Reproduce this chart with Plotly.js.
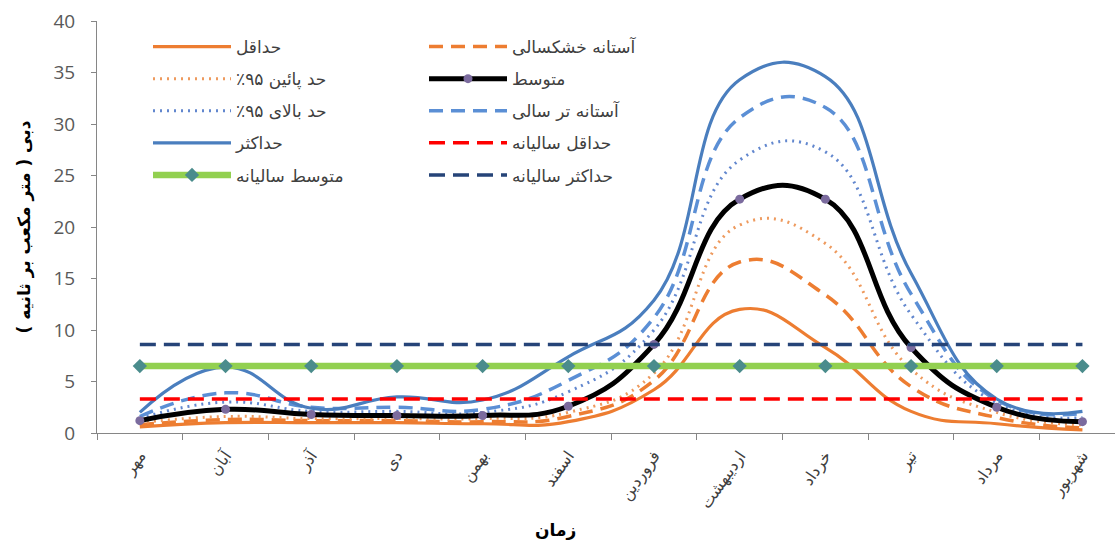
<!DOCTYPE html>
<html>
<head>
<meta charset="utf-8">
<script src="https://cdn.plot.ly/plotly-3.0.1.min.js"></script>
<style>
html,body{margin:0;padding:0;background:#fff;}
#chart{width:1115px;height:544px;}
</style>
</head>
<body>
<div id="chart"></div>
<script>
// ---- data ----
var months = ['مهر','آبان','آذر','دی','بهمن','اسفند','فروردین','اردیبهشت','خرداد','تیر','مرداد','شهریور'];
var minFlow   = [0.6, 1.0, 1.0, 1.0, 0.9, 1.1, 4.2, 12.0, 8.3, 2.1, 0.9, 0.3];
var drought   = [0.8, 1.3, 1.2, 1.2, 1.1, 1.6, 5.1, 16.6, 13.4, 4.5, 1.5, 0.5];
var lower95   = [1.0, 1.6, 1.4, 1.4, 1.4, 2.0, 5.8, 20.2, 18.4, 6.2, 2.0, 0.8];
var meanFlow  = [1.2, 2.3, 1.8, 1.7, 1.7, 2.6, 8.6, 22.7, 22.7, 8.3, 2.5, 1.1];
var upper95   = [1.4, 3.0, 2.1, 2.1, 2.0, 4.0, 10.0, 26.5, 27.3, 11.5, 2.9, 1.5];
var wet       = [1.6, 3.9, 2.5, 2.5, 2.3, 5.1, 11.2, 30.6, 31.6, 13.5, 3.2, 1.9];
var maxFlow   = [2.0, 6.4, 2.4, 3.5, 3.2, 7.4, 12.9, 34.3, 34.6, 15.5, 3.3, 2.1];
var annualMin  = [3.3, 3.3, 3.3, 3.3, 3.3, 3.3, 3.3, 3.3, 3.3, 3.3, 3.3, 3.3];
var annualMean = [6.5, 6.5, 6.5, 6.5, 6.5, 6.5, 6.5, 6.5, 6.5, 6.5, 6.5, 6.5];
var annualMax  = [8.6, 8.6, 8.6, 8.6, 8.6, 8.6, 8.6, 8.6, 8.6, 8.6, 8.6, 8.6];

var names = {
  min: 'حداقل',
  drought: 'آستانه خشکسالی',
  lower: '\u202Bحد پائین ۹۵٪\u202C',
  mean: 'متوسط',
  upper: '\u202Bحد بالای ۹۵٪\u202C',
  wet: 'آستانه تر سالی',
  max: 'حداکثر',
  aMin: 'حداقل سالیانه',
  aMean: 'متوسط سالیانه',
  aMax: 'حداکثر سالیانه'
};
var yTitle = '\u202Bدبی ( متر مکعب بر ثانیه )\u202C';
var xTitle = 'زمان';

var persianFont = 'DejaVu Sans, Noto Sans, sans-serif';

function curve(y, name, color, width, dash, legend, rank) {
  return {
    x: months, y: y, name: name, type: 'scatter', mode: 'lines',
    line: {color: color, width: width, dash: dash, shape: 'spline', smoothing: 1.3},
    legend: legend, legendgroup: name, legendrank: rank
  };
}

var traces = [
  curve(minFlow, names.min, '#ED7D31', 3.2, 'solid', 'legend', 1),
  curve(drought, names.drought, '#ED7D31', 3.5, '14px,8px', 'legend2', 1),
  curve(lower95, names.lower, '#EE9A5E', 3, '2px,5px', 'legend', 2),
  curve(upper95, names.upper, '#6287CE', 3, '2px,5px', 'legend', 3),
  curve(wet, names.wet, '#5B8FD5', 3.5, '14px,8px', 'legend2', 3),
  curve(maxFlow, names.max, '#4A7EBE', 3.2, 'solid', 'legend', 4),
  {
    x: months, y: meanFlow, name: names.mean, type: 'scatter', mode: 'lines+markers',
    line: {color: '#000000', width: 5, shape: 'spline', smoothing: 1.3},
    marker: {color: '#7B6B9E', size: 9, symbol: 'circle'},
    legend: 'legend2', legendgroup: names.mean, legendrank: 2
  },
  {
    x: months, y: annualMin, name: names.aMin, type: 'scatter', mode: 'lines',
    line: {color: '#FF0000', width: 3.5, dash: '16px,8px'},
    legend: 'legend2', legendgroup: names.aMin, legendrank: 4
  },
  {
    x: months, y: annualMean, name: names.aMean, type: 'scatter', mode: 'lines+markers',
    line: {color: '#92D050', width: 6.5},
    marker: {color: '#4A8C8C', size: 11, symbol: 'diamond'},
    legend: 'legend', legendgroup: names.aMean, legendrank: 5
  },
  {
    x: months, y: annualMax, name: names.aMax, type: 'scatter', mode: 'lines',
    line: {color: '#264478', width: 3.5, dash: '16px,8px'},
    legend: 'legend2', legendgroup: names.aMax, legendrank: 5
  }
];

var legendCommon = {
  orientation: 'v',
  traceorder: 'grouped',
  tracegroupgap: 7,
  itemwidth: 78,
  xref: 'paper', yref: 'paper',
  yanchor: 'top', xanchor: 'left',
  bgcolor: 'rgba(255,255,255,0)',
  font: {family: persianFont, size: 17, color: '#404040'}
};

var layout = {
  width: 1115, height: 544,
  margin: {l: 97, r: 0, t: 21, b: 111},
  paper_bgcolor: '#ffffff', plot_bgcolor: '#ffffff',
  showlegend: true,
  legend: Object.assign({}, legendCommon, {x: (148 - 97) / 1018, y: 1 - (29 - 21) / 412}),
  legend2: Object.assign({}, legendCommon, {x: (424 - 97) / 1018, y: 1 - (29 - 21) / 412}),
  xaxis: {
    type: 'category',
    range: [-0.5, 11.38],
    tickson: 'boundaries',
    ticks: 'outside', ticklen: 6, tickcolor: '#868686',
    showline: true, linecolor: '#868686', linewidth: 1,
    showgrid: false, zeroline: false,
    tickangle: -55,
    ticklabelstandoff: 6,
    tickfont: {family: persianFont, size: 16, color: '#404040'}
  },
  yaxis: {
    range: [0, 40], tick0: 0, dtick: 5,
    ticks: 'outside', ticklen: 5, tickcolor: '#868686',
    showline: true, linecolor: '#868686', linewidth: 1,
    showgrid: false, zeroline: false,
    ticklabelstandoff: 12,
    tickfont: {family: 'Open Sans, sans-serif', size: 19, color: '#595959'},
    title: {text: yTitle, standoff: 18, font: {family: persianFont, size: 17, color: '#000000', weight: 'bold'}}
  },
  annotations: [{
    text: '<b>' + xTitle + '</b>', xref: 'paper', yref: 'paper',
    x: (555 - 97) / 1018, y: 0, yshift: -97, showarrow: false,
    xanchor: 'center', yanchor: 'middle',
    font: {family: persianFont, size: 17, color: '#000000'}
  }]
};

Plotly.newPlot('chart', traces, layout, {staticPlot: true, displayModeBar: false});
</script>
</body>
</html>
